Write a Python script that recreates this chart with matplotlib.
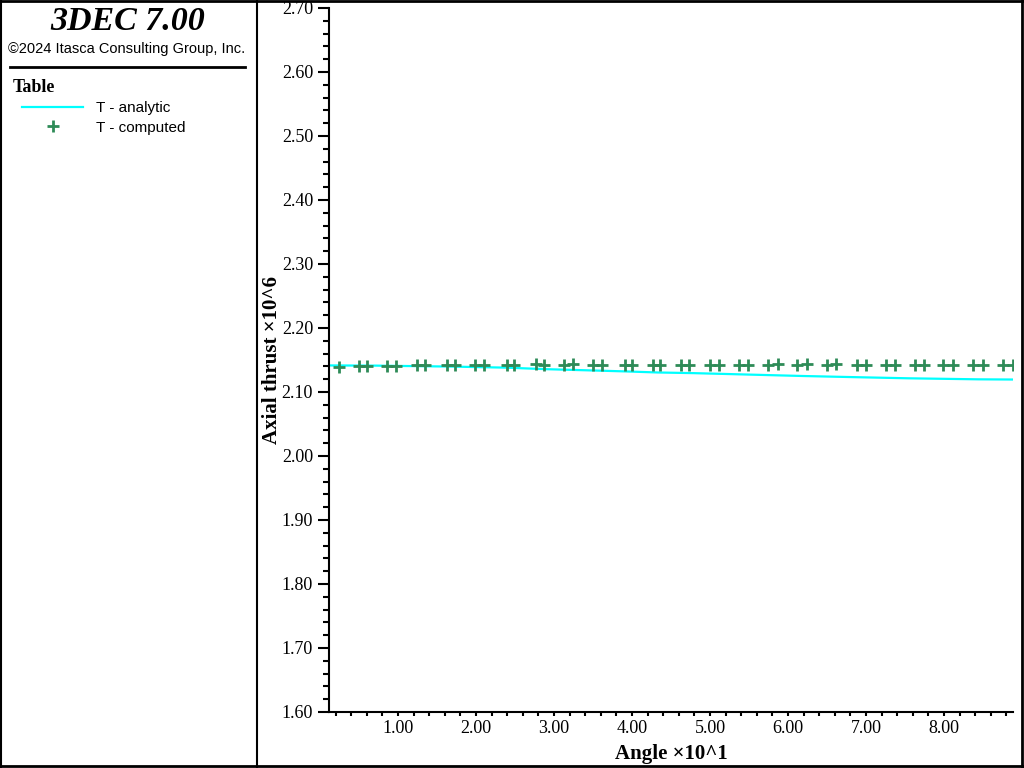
import numpy as np
import matplotlib
matplotlib.use("Agg")
import matplotlib.pyplot as plt
from matplotlib.lines import Line2D
from matplotlib.ticker import MultipleLocator, FormatStrFormatter

# analytic axial thrust (x10^6) vs angle (degrees)
analytic_angle = [1.15, 7.2, 16.9, 23.7, 29.2, 34.2, 38.8, 43.3, 47.8, 52.2,
                  56.9, 61.9, 67.8, 75.5, 84.4, 88.85]
analytic_thrust = [2.1415, 2.1412, 2.1397, 2.1381, 2.1356, 2.1339, 2.1323, 2.1305,
                   2.1295, 2.1281, 2.1266, 2.1250, 2.1234, 2.1214, 2.1198, 2.1195]

# computed axial thrust (x10^6) at the block angles
computed_angle = [2.4, 5.0, 6.0, 8.6, 9.7, 12.4, 13.5, 16.3, 17.3, 19.9, 21.0,
                  24.0, 24.9, 27.7, 28.7, 31.3, 32.4, 35.0, 36.2, 39.1, 40.0,
                  42.7, 43.6, 46.3, 47.3, 50.0, 51.2, 53.7, 54.9, 57.4, 58.7,
                  61.2, 62.4, 65.0, 66.2, 68.8, 70.0, 72.6, 73.7, 76.3, 77.4,
                  79.9, 81.2, 83.7, 85.0, 87.6, 88.8]
computed_thrust = [2.1397, 2.1402, 2.1402, 2.1412, 2.1412, 2.1420, 2.1417, 2.1420,
                   2.1417, 2.1417, 2.1425, 2.1417, 2.1417, 2.1433, 2.1417, 2.1417,
                   2.1433, 2.1422, 2.1422, 2.1422, 2.1422, 2.1422, 2.1422, 2.1428,
                   2.1428, 2.1428, 2.1417, 2.1428, 2.1417, 2.1428, 2.1433, 2.1422,
                   2.1433, 2.1422, 2.1433, 2.1428, 2.1428, 2.1428, 2.1428, 2.1428,
                   2.1428, 2.1428, 2.1428, 2.1428, 2.1428, 2.1428, 2.1428]

serif = "Liberation Serif"
sans = "Liberation Sans"

W, H = 1024, 768
fig = plt.figure(figsize=(W / 100, H / 100), dpi=100)

# plot area
ax = fig.add_axes([329 / W, 56 / H, (1013 - 329) / W, 704 / H])
l1, = ax.plot(np.array(analytic_angle) / 10, analytic_thrust, color="#00FFFF", lw=1.6)
l2, = ax.plot(np.array(computed_angle) / 10, computed_thrust, ls="none", marker="+",
              ms=9, mew=2, color="#2E8B57")

ax.set_xlim(1.15 / 10, 88.85 / 10)
ax.set_ylim(1.60, 2.70)
ax.xaxis.set_major_locator(MultipleLocator(1.0))
ax.xaxis.set_minor_locator(MultipleLocator(0.2))
ax.yaxis.set_major_locator(MultipleLocator(0.1))
ax.yaxis.set_minor_locator(MultipleLocator(0.02))
ax.xaxis.set_major_formatter(FormatStrFormatter("%.2f"))
ax.yaxis.set_major_formatter(FormatStrFormatter("%.2f"))

for s in ["top", "right"]:
    ax.spines[s].set_visible(False)
for s in ["left", "bottom"]:
    ax.spines[s].set_linewidth(1.5)

ax.tick_params(axis="y", which="major", direction="out", length=8, width=1.5, pad=3.5)
ax.tick_params(axis="y", which="minor", direction="out", length=4.5, width=1.5)
ax.tick_params(axis="x", which="major", direction="out", length=3, width=1.5, pad=2.5)
ax.tick_params(axis="x", which="minor", direction="out", length=3, width=1.5)
for lab in ax.get_xticklabels() + ax.get_yticklabels():
    lab.set_fontfamily(serif)
    lab.set_fontsize(13)

ax.set_xlabel("Angle \u00d710^1", fontfamily=serif, fontweight="bold", fontsize=15)
ax.set_ylabel("Axial thrust \u00d710^6", fontfamily=serif, fontweight="bold", fontsize=15)
ax.xaxis.set_label_coords(0.5, -(744 - 712) / 704)
ax.yaxis.set_label_coords(-(329 - 282) / 684, 0.5)

# left panel
fig.text(128 / W, 1 - 22 / H, "3DEC 7.00", ha="center", va="center", fontfamily=serif,
         fontstyle="italic", fontweight="bold", fontsize=24.5)
fig.text(127 / W, 1 - 49 / H, "\u00a92024 Itasca Consulting Group, Inc.", ha="center",
         va="center", fontfamily=sans, fontsize=10.5)
fig.add_artist(Line2D([10 / W, 245 / W], [1 - 67 / H] * 2, color="black", lw=2))
fig.text(13 / W, 1 - 87 / H, "Table", ha="left", va="center", fontfamily=serif,
         fontweight="bold", fontsize=13)

fig.legend([l1, l2], ["T - analytic", "T - computed"], loc="upper left",
           bbox_to_anchor=(22 / W, 1 - 101 / H), frameon=False, borderpad=0,
           borderaxespad=0, handlelength=4.0, handletextpad=0.85, labelspacing=0.38,
           numpoints=1, prop={"family": sans, "size": 11})

# frame and divider
fig.add_artist(Line2D([256.5 / W] * 2, [0, 1], color="black", lw=1.5))
fig.add_artist(Line2D([0.5 / W] * 2, [0, 1], color="black", lw=1.5))
fig.add_artist(Line2D([1022 / W] * 2, [0, 1], color="black", lw=2))
fig.add_artist(Line2D([0, 1], [1 - 1 / H] * 2, color="black", lw=2))
fig.add_artist(Line2D([0, 1], [1 - 765.5 / H] * 2, color="black", lw=2))

fig.savefig("out.png", dpi=100)
